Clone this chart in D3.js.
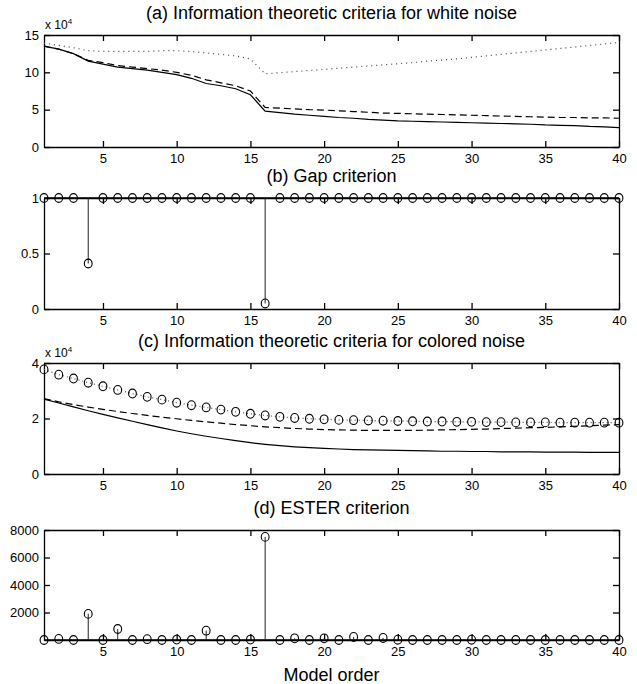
<!DOCTYPE html>
<html>
<head>
<meta charset="utf-8">
<script src="https://cdn.jsdelivr.net/npm/d3@7"></script>
<style>
  body { margin: 0; background: #fff; }
  svg { font-family: "Liberation Sans", Arial, Helvetica, sans-serif; }
  .tick text { font-size: 13px; fill: #000; }
  .tick line, .domain { stroke: #000; stroke-width: 1.3; }
</style>
</head>
<body>
<div id="chart"></div>
<script>
// model orders 1..40
const orders = d3.range(1, 41);

// (a) white noise criteria, x 10^4
const whiteSolid = [13.5, 13.1, 12.5, 11.5, 11.1, 10.7, 10.5, 10.3, 10.0, 9.7,
  9.2, 8.5, 8.2, 7.8, 7.0, 4.8, 4.6, 4.4, 4.25, 4.1,
  3.95, 3.85, 3.7, 3.6, 3.5, 3.45, 3.4, 3.35, 3.3, 3.25,
  3.2, 3.15, 3.1, 3.05, 2.95, 2.9, 2.85, 2.75, 2.7, 2.6];
const whiteDashed = [13.5, 13.1, 12.5, 11.6, 11.3, 10.9, 10.7, 10.5, 10.3, 10.0,
  9.6, 9.0, 8.6, 8.2, 7.5, 5.3, 5.2, 5.1, 5.0, 4.95,
  4.85, 4.75, 4.65, 4.55, 4.5, 4.45, 4.4, 4.35, 4.3, 4.25,
  4.2, 4.15, 4.1, 4.05, 4.0, 3.95, 3.95, 3.9, 3.9, 3.85];
const whiteDotted = [13.9, 13.6, 13.3, 12.9, 12.8, 12.8, 12.8, 12.8, 12.9, 12.9,
  12.8, 12.6, 12.4, 12.2, 11.8, 9.8, 9.95, 10.1, 10.25, 10.4,
  10.55, 10.7, 10.85, 11.0, 11.15, 11.3, 11.5, 11.65, 11.8, 12.0,
  12.2, 12.4, 12.6, 12.8, 13.0, 13.2, 13.4, 13.6, 13.8, 14.0];

// (b) gap criterion
const gapValues = [1, 1, 1, 0.41, 1, 1, 1, 1, 1, 1,
  1, 1, 1, 1, 1, 0.05, 1, 1, 1, 1,
  1, 1, 1, 1, 1, 1, 1, 1, 1, 1,
  1, 1, 1, 1, 1, 1, 1, 1, 1, 1];

// (c) colored noise criteria, x 10^4
const colorCircles = [3.77, 3.58, 3.44, 3.29, 3.16, 3.03, 2.90, 2.78, 2.68, 2.57,
  2.48, 2.40, 2.32, 2.24, 2.17, 2.11, 2.06, 2.02, 1.99, 1.97,
  1.95, 1.94, 1.93, 1.92, 1.91, 1.90, 1.89, 1.89, 1.88, 1.88,
  1.87, 1.87, 1.86, 1.86, 1.86, 1.85, 1.85, 1.85, 1.85, 1.85];
const colorDashed = [2.72, 2.6, 2.5, 2.41, 2.33, 2.25, 2.18, 2.11, 2.05, 1.99,
  1.93, 1.88, 1.83, 1.78, 1.74, 1.70, 1.67, 1.64, 1.62, 1.60,
  1.59, 1.58, 1.57, 1.57, 1.57, 1.57, 1.58, 1.59, 1.60, 1.61,
  1.62, 1.64, 1.65, 1.67, 1.68, 1.70, 1.72, 1.74, 1.76, 1.78];
const colorSolid = [2.70, 2.56, 2.42, 2.28, 2.15, 2.02, 1.90, 1.78, 1.66, 1.55,
  1.45, 1.36, 1.28, 1.20, 1.13, 1.07, 1.02, 0.98, 0.95, 0.92,
  0.90, 0.88, 0.87, 0.86, 0.85, 0.84, 0.83, 0.82, 0.82, 0.81,
  0.81, 0.80, 0.80, 0.80, 0.79, 0.79, 0.79, 0.78, 0.78, 0.78];

// (d) ESTER criterion
const esterValues = [0, 80, 0, 1900, 0, 800, 0, 60, 0, 30,
  0, 680, 0, 0, 30, 7500, 0, 120, 0, 120,
  0, 220, 0, 150, 20, 0, 0, 0, 0, 20,
  0, 0, 0, 0, 0, 0, 0, 0, 0, 0];

const xTicks = [5, 10, 15, 20, 25, 30, 35, 40];

const titles = [
  "(a) Information theoretic criteria for white noise",
  "(b) Gap criterion",
  "(c) Information theoretic criteria for colored noise",
  "(d) ESTER criterion"
];

const W = 637, H = 684;
const left = 44, right = 619;

const svg = d3.select("#chart").append("svg")
  .attr("width", W)
  .attr("height", H);

const x = d3.scaleLinear().domain([1, 40]).range([left, right]);
const plain = d => String(d);

//builds one boxed panel with inward ticks like matlab
function panel(top, bottom, yDomain, yTicks, title, exponent) {
  const y = d3.scaleLinear().domain(yDomain).range([bottom, top]);
  const g = svg.append("g");

  g.append("g")
    .attr("transform", `translate(0,${bottom})`)
    .call(d3.axisBottom(x).tickValues(xTicks).tickSizeInner(-6).tickSizeOuter(0).tickPadding(7).tickFormat(plain));
  g.append("g")
    .attr("transform", `translate(0,${top})`)
    .call(d3.axisTop(x).tickValues(xTicks).tickSizeInner(-6).tickSizeOuter(0).tickFormat(""));
  g.append("g")
    .attr("transform", `translate(${left},0)`)
    .call(d3.axisLeft(y).tickValues(yTicks).tickSizeInner(-6).tickSizeOuter(0).tickPadding(5).tickFormat(plain));
  g.append("g")
    .attr("transform", `translate(${right},0)`)
    .call(d3.axisRight(y).tickValues(yTicks).tickSizeInner(-6).tickSizeOuter(0).tickFormat(""));

  g.append("text")
    .attr("x", (left + right) / 2)
    .attr("y", top - 16)
    .attr("text-anchor", "middle")
    .style("font-size", "18px")
    .text(title);

  if (exponent) {
    let t = g.append("text")
      .attr("x", left + 1)
      .attr("y", top - 6)
      .style("font-size", "12px");
    t.append("tspan").text("x 10");
    t.append("tspan").attr("dy", -5).style("font-size", "8px").text(exponent);
  }
  return { g, y };
}

function drawLine(p, values, dash, color) {
  let line = d3.line().x((d, i) => x(orders[i])).y(d => p.y(d));
  p.g.append("path")
    .datum(values)
    .attr("d", line)
    .attr("fill", "none")
    .attr("stroke", color || "#000")
    .attr("stroke-width", 1.2)
    .attr("stroke-dasharray", dash);
}

function drawCircles(p, values) {
  p.g.selectAll(null)
    .data(values)
    .enter()
    .append("ellipse")
    .attr("cx", (d, i) => x(orders[i]))
    .attr("cy", d => p.y(d))
    .attr("rx", 3.9)
    .attr("ry", 4.4)
    .attr("fill", "none")
    .attr("stroke", "#000")
    .attr("stroke-width", 1.1);
}

function drawStems(p, values, base) {
  p.g.append("line")
    .attr("x1", x(1)).attr("x2", x(40))
    .attr("y1", p.y(base)).attr("y2", p.y(base))
    .attr("stroke", "#000").attr("stroke-width", 1.6);
  p.g.selectAll(null)
    .data(values)
    .enter()
    .append("line")
    .attr("x1", (d, i) => x(orders[i]))
    .attr("x2", (d, i) => x(orders[i]))
    .attr("y1", p.y(base))
    .attr("y2", d => p.y(d))
    .attr("stroke", "#222")
    .attr("stroke-width", 1);
  drawCircles(p, values);
}

// (a)
let pa = panel(35, 147, [0, 15], [0, 5, 10, 15], titles[0], "4");
drawLine(pa, whiteDotted, "1,4", "#444");
drawLine(pa, whiteDashed, "7,4");
drawLine(pa, whiteSolid, null);

// (b)
let pb = panel(198, 309, [0, 1], [0, 0.5, 1], titles[1]);
drawStems(pb, gapValues, 1);

// (c)
let pc = panel(363, 474, [0, 4], [0, 2, 4], titles[2], "4");
drawLine(pc, colorSolid, null);
drawLine(pc, colorDashed, "7,4");
drawLine(pc, colorCircles, "1,3", "#555");
drawCircles(pc, colorCircles);

// (d)
let pd = panel(530, 640, [0, 8000], [2000, 4000, 6000, 8000], titles[3]);
drawStems(pd, esterValues, 0);

svg.append("text")
  .attr("x", (left + right) / 2)
  .attr("y", 681)
  .attr("text-anchor", "middle")
  .style("font-size", "18px")
  .text("Model order");
</script>
</body>
</html>
